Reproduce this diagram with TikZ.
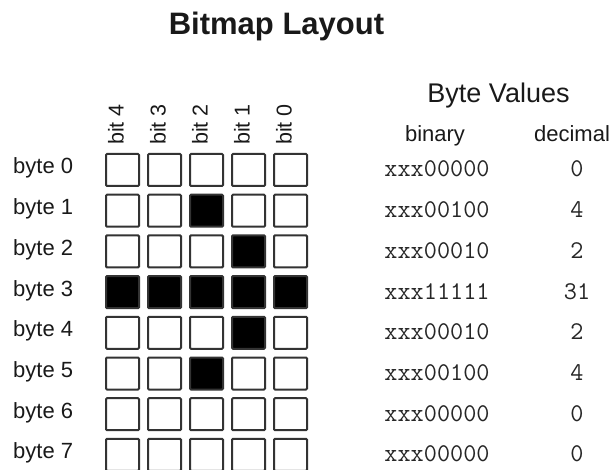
\documentclass[tikz,border=0pt]{standalone}
\usepackage{fontspec}
\setmainfont{Liberation Sans}
\begin{document}
\begin{tikzpicture}[x=1pt,y=-1pt,
  cell/.style={draw=black!80, line width=2pt, fill=white, rounded corners=1pt,
    minimum width=33pt, minimum height=32pt, inner sep=0pt},
  oncell/.style={cell, fill=black},
  lbl/.style={inner sep=0pt, font=\fontsize{22}{26}\selectfont, text=black!90},
  bitlbl/.style={lbl, rotate=90, anchor=base west, font=\fontsize{21.5}{24}\selectfont},
  monotxt/.style={inner sep=0pt, anchor=base, font=\ttfamily\fontsize{25.5}{28}\selectfont, text=black!85},
  ttl/.style={inner sep=0pt, anchor=base, font=\bfseries\fontsize{31}{36}\selectfont, text=black!90}]
\useasboundingbox (0,0) rectangle (615,470);
\node[ttl] (title) at (276.5,35) {Bitmap Layout};
\node[lbl, anchor=base, font=\fontsize{27}{32}\selectfont] (bv) at (498.5,103) {Byte Values};
\node[lbl, anchor=base] (binhead) at (435,142) {binary};
\node[lbl, anchor=base] (dechead) at (572,142) {decimal};
\foreach \j/\n in {0/4,1/3,2/2,3/1,4/0}
  \node[bitlbl] (bit\n) at ({123.5+42*\j},145) {bit \n};
\foreach \r/\bits/\bin/\dec in {
  0/{0,0,0,0,0}/00000/0,
  1/{0,0,1,0,0}/00100/4,
  2/{0,0,0,1,0}/00010/2,
  3/{1,1,1,1,1}/11111/31,
  4/{0,0,0,1,0}/00010/2,
  5/{0,0,1,0,0}/00100/4,
  6/{0,0,0,0,0}/00000/0,
  7/{0,0,0,0,0}/00000/0}{
  \node[lbl, anchor=base west] (byte\r) at (13,{174+40.7*\r}) {byte \r};
  \foreach \b [count=\c from 0] in \bits {
    \ifnum\b=1
      \node[oncell] (c-\r-\c) at ({122.5+42*\c},{170+40.7*\r}) {};
    \else
      \node[cell] (c-\r-\c) at ({122.5+42*\c},{170+40.7*\r}) {};
    \fi
  }
  \node[monotxt] (bin\r) at (437,{177+40.7*\r}) {xxx\bin};
  \node[monotxt] (dec\r) at (577,{177+40.7*\r}) {\dec};
}
\end{tikzpicture}
\end{document}
